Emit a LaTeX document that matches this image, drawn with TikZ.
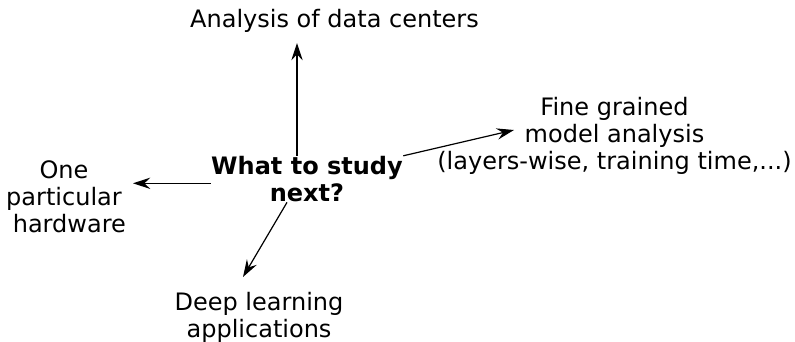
\documentclass[tikz,border=0pt]{standalone}
\usepackage{fontspec}
\setmainfont{DejaVu Sans}
\usetikzlibrary{arrows.meta}

\tikzset{every picture/.style={line width=0.75pt}}
\tikzset{
  idea/.style={anchor=north, inner sep=0pt, align=center, font=\fontsize{18}{20.25}\selectfont},
  question/.style={idea, font=\bfseries\fontsize{18}{20.25}\selectfont},
  toward/.style={-{Stealth[length=13pt,width=8.5pt,inset=4.5pt]}, line width=0.9pt},
}

\begin{document}
\begin{tikzpicture}[x=0.75pt,y=0.75pt,yscale=-1,xscale=1]
\useasboundingbox (0,0) rectangle (795,342);

% Text Node
\node [question] (next) at (307,155.8) {What to study\\next?};
% Text Node
\node [idea] (centers) at (334.5,8.5) {Analysis of data centers};
% Text Node
\node [idea] (fine) at (614.5,96.8) {Fine grained\\model analysis\\(layers-wise, training time,...)};
% Text Node
\node [idea] (hardware) at (64,160) {One\\particular\\\hspace*{8pt}hardware};
% Text Node
\node [idea] (deep) at (259,291.8) {Deep learning\\applications};

%Arrow tips
\coordinate (upTip) at (297,43);
\coordinate (leftTip) at (133,183.3);
\coordinate (downTip) at (243,277);
\coordinate (rightTip) at (514,130);

%Straight Lines
\draw [toward] (next.north -| upTip) -- (upTip);
\draw [toward] (leftTip -| next.west) -- (leftTip);
\draw [toward] ([xshift=-15pt]next.south) -- (downTip);
\draw [toward] (next.north east) -- (rightTip);

\end{tikzpicture}
\end{document}
